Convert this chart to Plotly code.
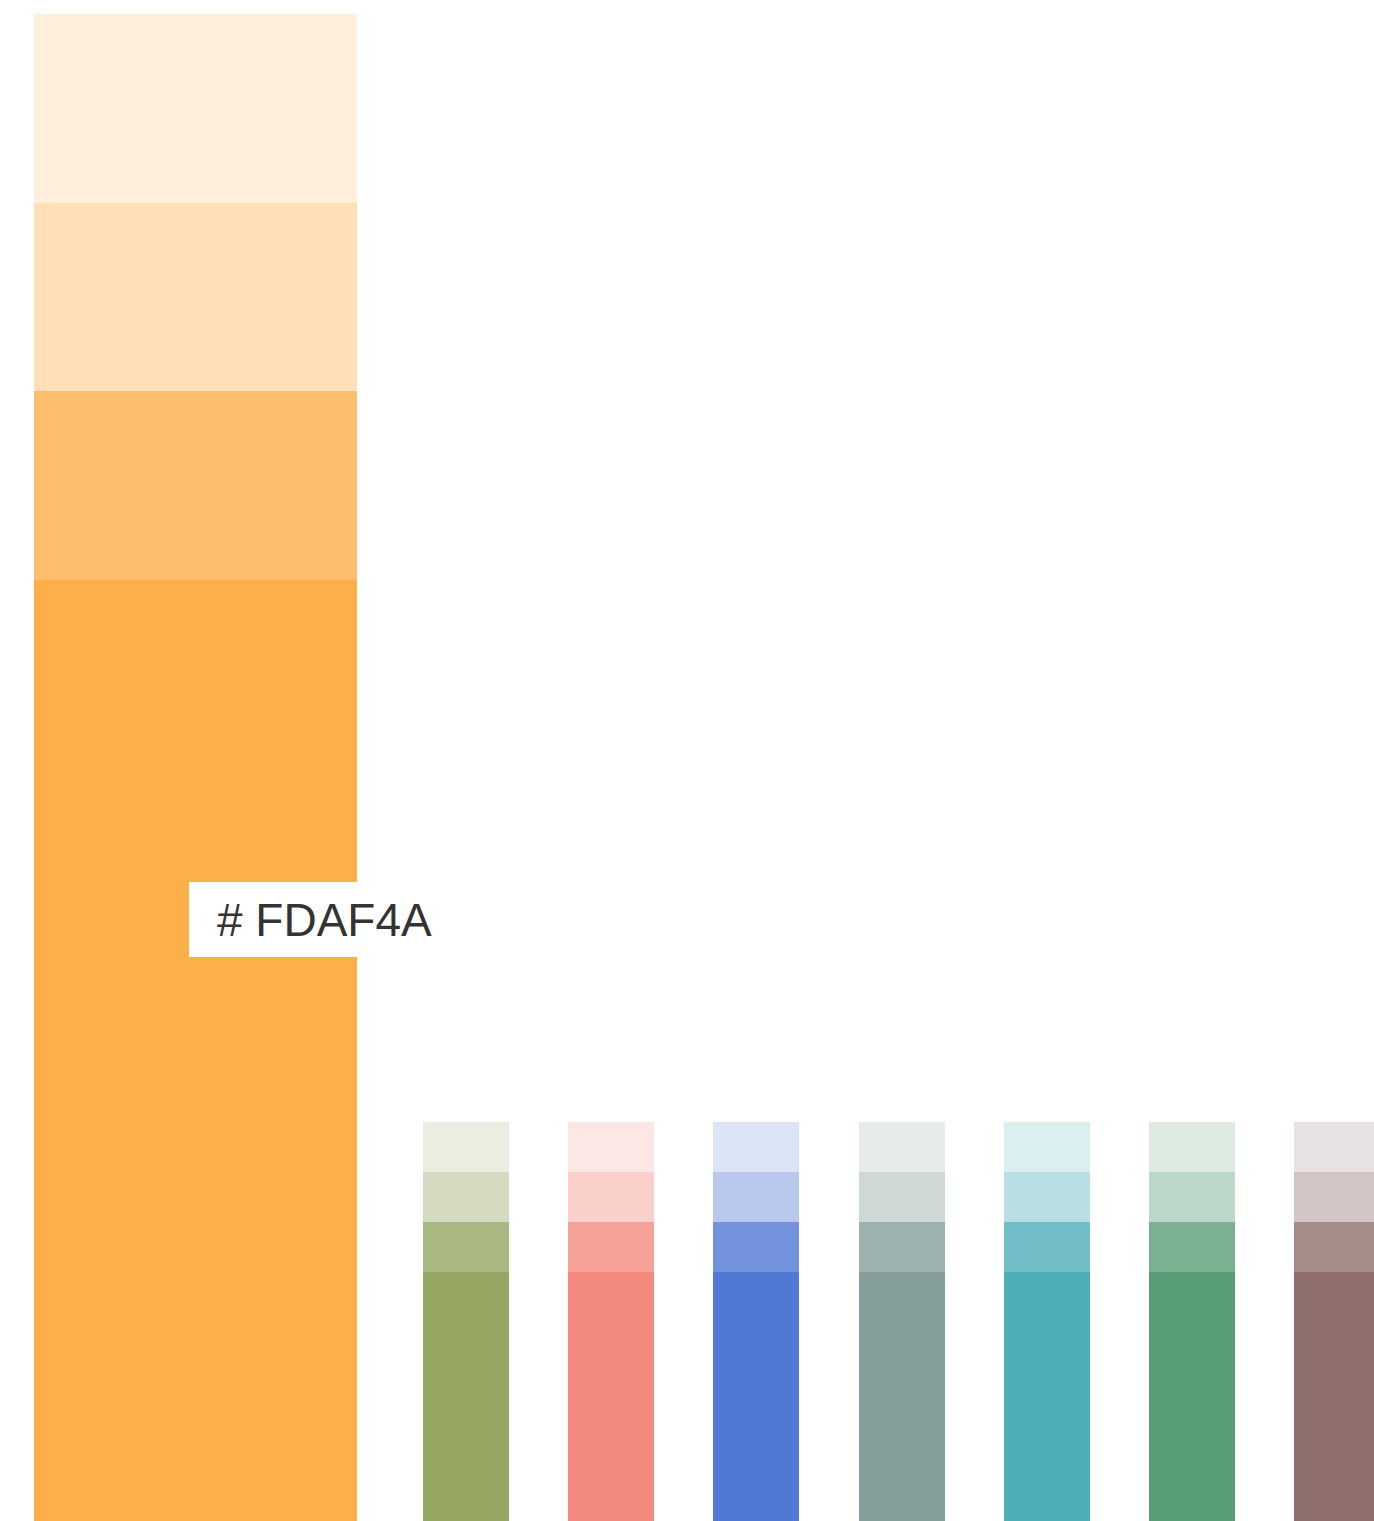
import plotly.graph_objects as go

# ---- data ----
families = ["Orange", "Olive", "Salmon", "Blue", "Slate", "Teal", "Jade", "Mauve"]
base_colors = ["#FDAF4A", "#94A661", "#F4897D", "#5078D5", "#859E9B", "#4DAEBA", "#579D75", "#8F6F6C"]
shade_names = ["100%", "80%", "40%", "20%"]
shade_alpha = [1.0, 0.8, 0.4, 0.2]
# segment heights per family (bottom shade first)
featured_values = [941, 189, 188, 189]
swatch_values = [249, 50, 50, 50]
label_text = "# FDAF4A"

# ---- layout constants (page is drawn with no body margin) ----
W, H = 1374, 1521
big_center, big_width = 195.5, 323
small_first, small_step, small_width = 466, 145.2, 86


def tint(hex_color, a):
    h = hex_color.lstrip("#")
    rgb = [int(h[i:i + 2], 16) for i in (0, 2, 4)]
    out = [round(255 - (255 - c) * a) for c in rgb]
    return "#%02X%02X%02X" % tuple(out)


xs = [big_center] + [small_first + i * small_step for i in range(len(families) - 1)]
widths = [big_width] + [small_width] * (len(families) - 1)

fig = go.Figure()
for k, (name, a) in enumerate(zip(shade_names, shade_alpha)):
    ys = [featured_values[k]] + [swatch_values[k]] * (len(families) - 1)
    fig.add_trace(go.Bar(
        x=xs, y=ys, width=widths, name=name,
        marker=dict(color=[tint(c, a) for c in base_colors], line=dict(width=0)),
        hoverinfo="skip", showlegend=False,
    ))

fig.add_shape(type="rect", x0=189, x1=470, y0=564, y1=639,
              fillcolor="white", line=dict(width=0), layer="above")
fig.add_annotation(x=215, y=601.5, xref="x", yref="y", text=label_text,
                   showarrow=False, xanchor="left", yanchor="middle",
                   font=dict(family="Liberation Sans, Arial, sans-serif", size=46, color="#333333"))

fig.update_layout(
    barmode="stack", bargap=0,
    width=W, height=H,
    margin=dict(l=0, r=0, t=0, b=0),
    paper_bgcolor="white", plot_bgcolor="white",
    xaxis=dict(range=[0, W], visible=False, fixedrange=True),
    yaxis=dict(range=[0, H], visible=False, fixedrange=True),
)

fig.write_html(
    "out.html",
    config={"displayModeBar": False, "staticPlot": True},
    post_script=(
        "document.documentElement.style.overflow='hidden';"
        "document.body.style.overflow='hidden';"
        "document.body.style.margin='0';"
    ),
)
